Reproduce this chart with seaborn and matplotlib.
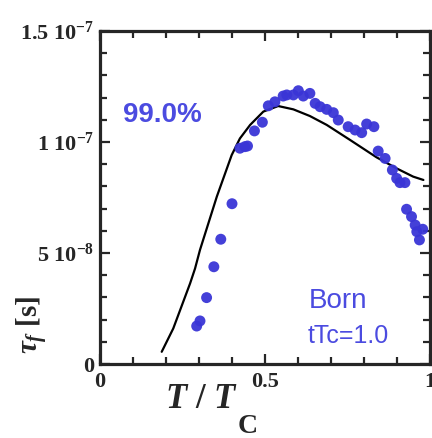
import numpy as np
import pandas as pd
import matplotlib
matplotlib.use('Agg')
import matplotlib.pyplot as plt
from matplotlib.ticker import MultipleLocator, FixedLocator
import seaborn as sns

# measured points (T/Tc, tau_f in units of 1e-7 s)
ptT = [0.293, 0.303, 0.323, 0.345, 0.366, 0.400, 0.424, 0.439, 0.447, 0.468,
       0.492, 0.510, 0.530, 0.555, 0.566, 0.586, 0.601, 0.616, 0.636, 0.652,
       0.667, 0.687, 0.707, 0.722, 0.752, 0.773, 0.793, 0.808, 0.830, 0.843,
       0.864, 0.886, 0.899, 0.909, 0.924, 0.929, 0.944, 0.955, 0.960, 0.968,
       0.978]
ptTau = [0.171, 0.194, 0.299, 0.438, 0.562, 0.722, 0.972, 0.979, 0.982, 1.05,
         1.089, 1.163, 1.181, 1.207, 1.212, 1.212, 1.231, 1.207, 1.219, 1.174,
         1.159, 1.147, 1.132, 1.099, 1.069, 1.054, 1.042, 1.081, 1.069, 0.959,
         0.926, 0.874, 0.836, 0.817, 0.817, 0.697, 0.664, 0.626, 0.596, 0.559,
         0.607]

# theory curve
lnT = [0.187, 0.222, 0.273, 0.288, 0.303, 0.354, 0.399, 0.424, 0.455, 0.495,
       0.540, 0.586, 0.636, 0.687, 0.758, 0.838, 0.899, 0.949, 0.980]
lnTau = [0.055, 0.16, 0.363, 0.43, 0.514, 0.754, 0.941, 1.016, 1.077, 1.137,
         1.162, 1.147, 1.117, 1.077, 1.009, 0.931, 0.881, 0.844, 0.829]

yticks = [0, 0.5e-7, 1e-7, 1.5e-7]
ylabels = ['0', r'5 10$^{-8}$', r'1 10$^{-7}$', r'1.5 10$^{-7}$']

dfP = pd.DataFrame({'T': ptT, 'tau': np.array(ptTau) * 1e-7})
dfL = pd.DataFrame({'T': lnT, 'tau': np.array(lnTau) * 1e-7})

sns.set_style('ticks')
plt.rcParams['font.family'] = ['Liberation Serif', 'DejaVu Serif']
plt.rcParams['font.weight'] = 'bold'
plt.rcParams['mathtext.fontset'] = 'custom'
plt.rcParams['mathtext.rm'] = 'Liberation Serif:bold'
plt.rcParams['mathtext.it'] = 'Liberation Serif:bold:italic'
plt.rcParams['mathtext.bf'] = 'Liberation Serif:bold'

W, H = 432, 438
fig = plt.figure(figsize=(W / 100, H / 100), dpi=100)
ax = fig.add_axes([100 / W, 74 / H, 330 / W, 333 / H])

sns.lineplot(data=dfL, x='T', y='tau', color='black', lw=1.6, ax=ax, sort=False)
sns.scatterplot(data=dfP, x='T', y='tau', color='#3a35d6', s=62, edgecolor='none',
                alpha=0.95, ax=ax, zorder=3)

ax.set_xlim(0, 1)
ax.set_ylim(0, 1.5e-7)
ax.xaxis.set_major_locator(FixedLocator([0, 0.5, 1]))
ax.xaxis.set_minor_locator(MultipleLocator(0.1))
ax.set_xticklabels(['0', '0.5', '1'])
ax.yaxis.set_major_locator(FixedLocator(yticks))
ax.yaxis.set_minor_locator(MultipleLocator(1e-8))
ax.set_yticklabels(ylabels)
ax.tick_params(which='both', direction='in', top=True, right=True, width=1.6, labelsize=16)
ax.tick_params(which='major', length=7)
ax.tick_params(which='minor', length=5)
ax.tick_params(axis='x', pad=6)
ax.tick_params(axis='y', pad=4)
for s in ax.spines.values():
    s.set_linewidth(2.3)
ax.set_xlabel('')
ax.set_ylabel('')

# axis titles
fig.text(165 / W, (H - 408) / H, r'$T\ /\ T$', fontsize=25, va='baseline', ha='left')
fig.text(238 / W, (H - 433) / H, 'C', fontsize=20, fontweight='bold', va='baseline', ha='left')
fig.text(33 / W, (H - 325) / H, r'$\tau_f$ [s]', fontsize=21, rotation=90,
         ha='center', va='center')

ax.text(0.07, 0.727, '99.0%', transform=ax.transAxes, color='#4b4be0', fontsize=20,
        fontweight='bold', family='Liberation Sans', va='baseline')
ax.text(0.633, 0.168, 'Born', transform=ax.transAxes, color='#4b4be0', fontsize=20,
        fontweight='normal', family='Liberation Sans', va='baseline')
ax.text(0.63, 0.063, 'tTc=1.0', transform=ax.transAxes, color='#4b4be0', fontsize=18,
        fontweight='normal', family='Liberation Sans', va='baseline')

plt.savefig('out.png', dpi=100)
